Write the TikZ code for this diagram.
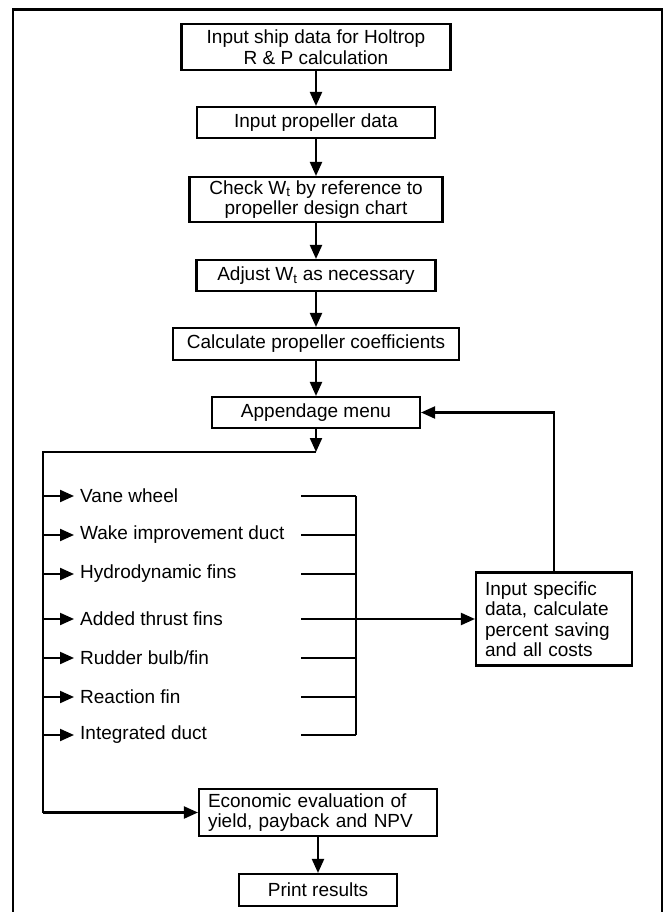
\documentclass[tikz,border=0pt]{standalone}
\usepackage{fontspec}
\setmainfont{Liberation Sans}
\usetikzlibrary{arrows.meta}
\begin{document}
\begin{tikzpicture}[x=1pt,y=-1pt,
  txt/.style={font=\fontsize{19}{20.5}\selectfont},
  box/.style={draw, line width=2.1pt, inner sep=2pt, txt, align=center},
  lbox/.style={draw, line width=2.1pt, inner xsep=9pt, inner ysep=3pt, txt, align=left},
  item/.style={anchor=west, inner xsep=0pt, inner ysep=2pt, txt},
  conn/.style={line width=2.1pt},
  arr/.style={line width=2.1pt, -{Triangle[length=14pt,width=12pt]}},
]
\fill[white] (0,0) rectangle (670,912);
\useasboundingbox (0,0) rectangle (670,912);
\draw[line width=2.8pt] (13,912) -- (13,9.5) -- (662,9.5) -- (662,912);

\node[box, minimum width=269pt, minimum height=46pt] (b1) at (316,47) {Input ship data for Holtrop\\R \& P calculation};
\node[box, minimum width=238pt, minimum height=31pt] (b2) at (316,122.5) {Input propeller data};
\node[box, minimum width=253pt, minimum height=45pt] (b3) at (316,199.5) {Check W\textsubscript{t} by reference to\\propeller design chart};
\node[box, minimum width=239pt, minimum height=31pt] (b4) at (316,275.5) {Adjust W\textsubscript{t} as necessary};
\node[box, minimum width=286pt, minimum height=32pt] (b5) at (316,344) {Calculate propeller coefficients};
\node[box, minimum width=208pt, minimum height=31pt] (b6) at (316,412.5) {Appendage menu};

\node[lbox, text width=138pt, minimum height=93pt] (inp) at (554,619) {Input specific\\data, calculate\\percent saving\\and all costs};
\node[lbox, text width=220pt, minimum height=47pt] (eco) at (318,812.5) {Economic evaluation of\\yield, payback and NPV};
\node[box, minimum width=158pt, minimum height=32pt] (prt) at (318,890) {Print results};

\draw[arr] (b1) -- (b2);
\draw[arr] (b2) -- (b3);
\draw[arr] (b3) -- (b4);
\draw[arr] (b4) -- (b5);
\draw[arr] (b5) -- (b6);

\coordinate (j) at (316,452);
\coordinate (lt) at (43,452);
\coordinate (lb) at (43,812.5);
\draw[arr] (b6) -- (j);
\draw[conn] (j) -- (lt) -- (lb);
\draw[arr] (lb) -- (eco.west);
\draw[arr] (eco) -- (prt);

\foreach \i/\y/\t in {1/496/{Vane wheel}, 2/535/{Wake improvement duct}, 3/574/{Hydrodynamic fins}, 4/619/{Added thrust fins}, 5/658/{Rudder bulb/fin}, 6/697/{Reaction fin}, 7/735/{Integrated duct}}{
  \coordinate (a\i) at (43,\y);
  \node[item] (it\i) at (80,\y) {\t};
  \draw[arr, shorten >=6pt] (a\i) -- (it\i.west);
  \coordinate (r\i) at (301,\y);
  \coordinate (s\i) at (356,\y);
}
\foreach \i in {1,2,3,5,6,7}{\draw[conn] (r\i) -- (s\i);}
\draw[conn] (s1) -- (s7);
\draw[arr] (r4) -- (inp.west);
\draw[arr] (inp.north) |- (b6.east);
\end{tikzpicture}
\end{document}
